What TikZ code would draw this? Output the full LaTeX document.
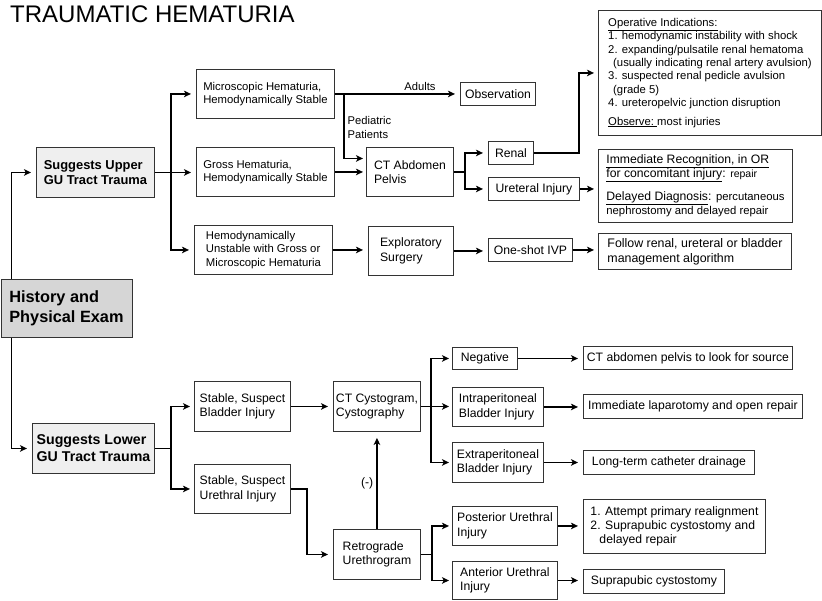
\documentclass[tikz,border=0pt]{standalone}
\usepackage{fontspec}
\setmainfont{Liberation Sans}
\usetikzlibrary{arrows.meta, positioning}
\definecolor{histgray}{HTML}{D6D6D6}
\definecolor{tractgray}{HTML}{EFEFEF}
\newcommand{\fsm}{\fontsize{11.3}{13.3}\selectfont}
\newcommand{\fnorm}{\fontsize{12.2}{14.6}\selectfont}
\newcommand{\flbl}{\fontsize{11.2}{14.3}\selectfont}
\newcommand{\ftiny}{\fontsize{10.5}{14}\selectfont}

\begin{document}
\begin{tikzpicture}[
    x=1pt, y=-1pt,
    >={Stealth[length=7pt,width=6.5pt,inset=1.8pt]},
    box/.style={draw=black!80, line width=0.9pt, align=left, anchor=north west, inner sep=2pt, font=\fnorm},
    tract/.style={box, fill=tractgray, font=\bfseries\fontsize{12.9}{15}\selectfont},
    link/.style={->, line width=1.5pt, shorten >=5pt},
    lbl/.style={font=\flbl, inner sep=3pt},
]
\useasboundingbox (0,0) rectangle (822,600);

\node[font=\fontsize{24}{28}\selectfont, anchor=base west, inner sep=0pt] (title) at (10,22) {TRAUMATIC HEMATURIA};

\node[box, fill=histgray, font=\bfseries\fontsize{16.3}{19.5}\selectfont, minimum width=131pt, minimum height=58pt] (hist) at (0.5,279) {History and\\Physical Exam};
\node[tract, minimum width=118pt, minimum height=50pt] (upperGU) at (36,147) {Suggests Upper\\GU Tract Trauma};
\node[tract, font=\bfseries\fontsize{14.2}{17.3}\selectfont, minimum width=122pt, minimum height=50pt] (lowerGU) at (32,423) {Suggests Lower\\GU Tract Trauma};

\node[box, font=\fsm, minimum width=138pt, minimum height=49pt] (micro) at (196,69) {Microscopic Hematuria,\\Hemodynamically Stable};
\node[box, font=\fsm, minimum width=138pt, minimum height=49pt] (gross) at (196,147) {Gross Hematuria,\\Hemodynamically Stable};
\node[box, font=\fsm, minimum width=138pt, minimum height=49pt] (unstab) at (194,225) {Hemodynamically\\Unstable with Gross or\\Microscopic Hematuria};
\node[box, minimum width=87pt, minimum height=49pt] (ctabd) at (366,147) {CT Abdomen\\Pelvis};
\node[box, minimum width=85pt, minimum height=49pt] (explo) at (368,226) {Exploratory\\Surgery};
\node[box, minimum width=75pt, minimum height=23pt] (obs) at (460,82) {Observation};
\node[box, minimum width=45pt, minimum height=23pt] (renal) at (488,141) {Renal};
\node[box, minimum width=91pt, minimum height=23pt] (ureter) at (488,177) {Ureteral Injury};
\node[box, minimum width=84pt, minimum height=23pt] (oneshot) at (488,238) {One-shot IVP};

\node[box, font=\fsm, minimum width=223pt, minimum height=125pt] (oper) at (598,10) {\underline{Operative Indications:}\\
1. hemodynamic instability with shock\\
2. expanding/pulsatile renal hematoma\\
\hspace*{5pt}(usually indicating renal artery avulsion)\\
3. suspected renal pedicle avulsion\\
\hspace*{5pt}(grade 5)\\
4. ureteropelvic junction disruption\\[5.5pt]
\underline{Observe:\ }most injuries};
\node[box, font=\fontsize{12.2}{14}\selectfont, minimum width=194pt, minimum height=73pt] (imm) at (598,149) {\underline{Immediate Recognition, in OR}\\
\underline{for concomitant injury}: {\ftiny repair}\\[9pt]
\underline{Delayed Diagnosis}: {\fsm percutaneous}\\
{\fsm nephrostomy and delayed repair}};
\node[box, font=\fontsize{12.4}{15}\selectfont, minimum width=193pt, minimum height=36pt] (follow) at (598,233) {Follow renal, ureteral or bladder\\management algorithm};

\node[box, minimum width=96pt, minimum height=50pt] (bladS) at (194,381) {Stable, Suspect\\Bladder Injury};
\node[box, minimum width=96pt, minimum height=49pt] (urethS) at (194,464) {Stable, Suspect\\Urethral Injury};
\node[box, minimum width=87pt, minimum height=50pt] (ctcys) at (333,381) {CT Cystogram,\\Cystography};
\node[box, minimum width=87pt, minimum height=50pt] (retro) at (333,529) {Retrograde\\Urethrogram};
\node[box, minimum width=65pt, minimum height=22pt] (neg) at (452,347) {Negative};
\node[box, minimum width=91pt, minimum height=39pt] (intra) at (452,387) {Intraperitoneal\\Bladder Injury};
\node[box, minimum width=91pt, minimum height=40pt] (extra) at (452,442) {Extraperitoneal\\Bladder Injury};
\node[box, minimum width=105pt, minimum height=39pt] (post) at (452,506) {Posterior Urethral\\Injury};
\node[box, minimum width=105pt, minimum height=38pt] (ant) at (452,561) {Anterior Urethral\\Injury};
\node[box, minimum width=209pt, minimum height=23pt] (ctsrc) at (583,346) {CT abdomen pelvis to look for source};
\node[box, minimum width=219pt, minimum height=24pt] (lap) at (583,394) {Immediate laparotomy and open repair};
\node[box, minimum width=171pt, minimum height=24pt] (longt) at (583,450) {Long-term catheter drainage};
\node[box, font=\fontsize{12.2}{14}\selectfont, minimum width=182pt, minimum height=54pt] (attempt) at (583,499) {1. Attempt primary realignment\\
2. Suprapubic cystostomy and\\
\hspace*{9pt}delayed repair};
\node[box, minimum width=141pt, minimum height=24pt] (supra) at (583,569) {Suprapubic cystostomy};

\draw[link] ([xshift=11pt]hist.north west) |- (upperGU.west);
\draw[link] ([xshift=11pt]hist.south west) |- (lowerGU.west);

\draw[link] (upperGU.east) -- ++(16,0) |- (micro.west);
\draw[link] (upperGU.east) -- (upperGU.east -| gross.west);
\draw[link] (upperGU.east) -- ++(16,0) |- (unstab.west);
\draw[link] (micro.east) -- node[lbl, above, pos=0.68] {Adults} (micro.east -| obs.west);
\draw[link, shorten >=3pt] ([xshift=9pt]micro.east) |- node[lbl, right, pos=0.26, align=left] {Pediatric\\Patients} ([yshift=13.5pt]ctabd.west);
\draw[link, shorten >=3pt] (gross.east) -- (gross.east -| ctabd.west);
\draw[link] (ctabd.east) -- ++(11,0) |- (renal.west);
\draw[link] (ctabd.east) -- ++(11,0) |- (ureter.west);
\draw[link, shorten >=4pt] (renal.east) -- ++(45,0) |- (oper.west);
\draw[link, shorten >=4pt] (ureter.east) -- (ureter.east -| imm.west);
\draw[link] (unstab.east) -- (unstab.east -| explo.west);
\draw[link] (explo.east) -- (explo.east -| oneshot.west);
\draw[link, shorten >=4pt] (oneshot.east) -- (oneshot.east -| follow.west);

\draw[link, shorten >=4pt] (lowerGU.east) -- ++(16,0) |- (bladS.west);
\draw[link, shorten >=4pt] (lowerGU.east) -- ++(16,0) |- (urethS.west);
\draw[link] (bladS.east) -- (bladS.east -| ctcys.west);
\draw[link] (urethS.east) -- ++(16,0) |- (retro.west);
\draw[link, shorten >=6pt] (retro.north) -- node[lbl, font=\fnorm, left, pos=0.47] {(-)} (ctcys.south);
\draw[link, shorten >=3pt] (ctcys.east) -- ++(10,0) |- (neg.west);
\draw[link, shorten >=3pt] (ctcys.east) -- (ctcys.east -| intra.west);
\draw[link, shorten >=3pt] (ctcys.east) -- ++(10,0) |- (extra.west);
\draw[link] (neg.east) -- (neg.east -| ctsrc.west);
\draw[link] (intra.east) -- (intra.east -| lap.west);
\draw[link] (extra.east) -- (extra.east -| longt.west);
\draw[link, shorten >=3pt] (retro.east) -- ++(11,0) |- (post.west);
\draw[link, shorten >=3pt] (retro.east) -- ++(11,0) |- (ant.west);
\draw[link] (post.east) -- (post.east -| attempt.west);
\draw[link] (ant.east) -- (ant.east -| supra.west);
\end{tikzpicture}
\end{document}
